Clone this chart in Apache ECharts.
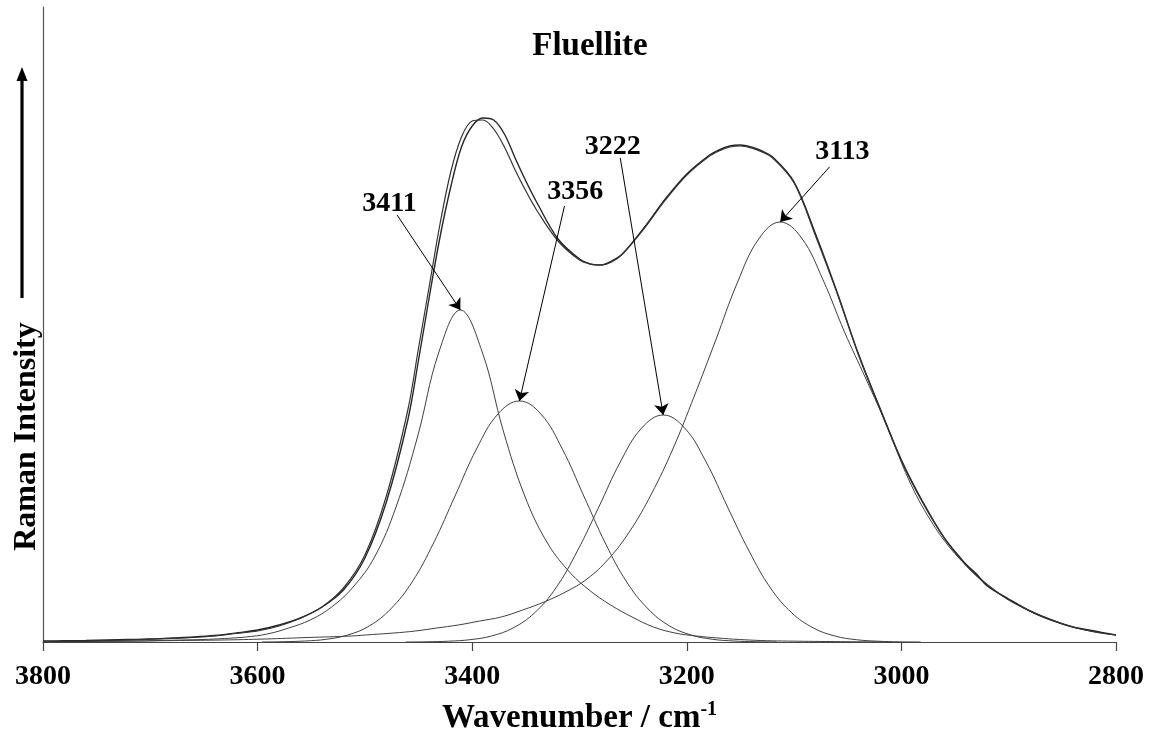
<!DOCTYPE html>
<html>
<head>
<meta charset="utf-8">
<title>Fluellite – Raman OH stretching region</title>
<script src="https://cdn.jsdelivr.net/npm/echarts@6/dist/echarts.min.js"></script>
<style>
  html, body { margin: 0; padding: 0; background: #fff; }
  #chart { width: 1152px; height: 740px; }
</style>
</head>
<body>
<div id="chart"></div>
<script>
// Measured Raman spectrum (wavenumber / cm-1, intensity a.u.)
const observed = [[3800,1],[3780,1.2],[3760,1.5],[3740,2],[3720,2.5],[3700,3],[3680,4],[3660,5],[3640,6.5],[3620,9],[3600,12],[3580,17],[3560,24],[3540,35],[3520,52],[3500,84],[3480,140],[3460,222],[3450,282],[3440,345],[3430,405],[3420,455],[3410,495],[3400,516],[3390,524],[3380,522],[3370,508],[3360,484],[3350,461],[3340,440],[3320,403],[3300,383],[3290,378],[3280,377],[3270,381],[3260,388],[3240,414],[3220,443],[3200,468],[3180,486],[3170,492],[3160,496],[3150,497],[3140,495],[3130,491],[3120,485],[3100,460],[3080,408],[3060,350],[3040,288],[3020,234],[3000,182],[2980,140],[2960,104],[2940,78],[2930,68],[2920,56],[2900,43],[2880,31],[2860,22],[2840,15],[2820,11],[2800,7]];

// Sum of the fitted bands
const fitted = [[3800,0.5],[3780,0.8],[3760,1],[3740,1.5],[3720,2],[3700,2.8],[3680,3.5],[3660,4.5],[3640,6],[3620,8.5],[3600,11],[3580,16],[3560,24],[3540,35],[3520,54],[3500,87],[3480,146],[3460,232],[3450,294],[3440,356],[3430,418],[3420,470],[3410,505],[3400,521],[3390,522],[3380,513],[3370,495],[3360,472],[3350,451],[3340,432],[3320,401],[3300,382],[3290,378],[3280,377],[3270,380],[3260,388],[3240,413],[3220,442],[3200,467],[3180,485],[3170,491],[3160,495],[3150,496],[3140,494],[3130,490],[3120,484],[3100,459],[3080,406],[3060,349],[3040,287],[3020,233],[3000,181],[2980,139],[2960,104],[2940,77],[2920,57],[2900,42],[2880,31],[2860,22],[2840,15],[2820,10],[2800,7]];

// Component bands from the curve fit
const band3411 = [[3791,0.3],[3751,0.6],[3711,1],[3691,1.5],[3671,2],[3651,2.5],[3631,3.5],[3611,5],[3591,8],[3571,14],[3551,22],[3531,35],[3511,55],[3491,85],[3471,135],[3451,205],[3431,290],[3411,332],[3391,291],[3371,211],[3351,146],[3331,101],[3311,72],[3291,52],[3271,37],[3251,25],[3231,15],[3211,9],[3191,6],[3171,4],[3151,2.5],[3131,1.5],[3111,1],[3071,0.5],[3011,0]];
const band3356 = [[3596,0],[3576,0.3],[3556,1],[3536,2.7],[3516,7],[3496,16],[3476,33],[3456,60],[3436,99],[3416,146],[3396,193],[3376,228],[3356,241],[3336,228],[3316,193],[3296,146],[3276,99],[3256,60],[3236,33],[3216,16],[3196,7],[3176,2.7],[3156,1],[3136,0.3],[3116,0]];
const band3222 = [[3462,0],[3442,0.2],[3422,0.8],[3402,2.3],[3382,6],[3362,14],[3342,29],[3322,54],[3302,91],[3282,135],[3262,180],[3242,214],[3222,227],[3202,214],[3182,180],[3162,135],[3142,91],[3122,54],[3102,29],[3082,14],[3062,6],[3042,2.3],[3022,0.8],[3002,0.2],[2982,0]];
const band3113 = [[3793,0.5],[3713,1],[3673,1.5],[3633,2],[3593,3],[3553,4.5],[3513,6],[3493,7.5],[3473,9],[3453,11],[3433,14],[3413,17],[3393,21],[3373,25],[3353,32],[3333,40],[3313,50],[3293,63],[3273,83],[3253,111],[3233,148],[3213,193],[3193,246],[3173,302],[3153,359],[3133,403],[3113,420],[3093,404],[3073,362],[3053,310],[3033,263],[3013,215],[2993,162],[2973,122],[2953,92],[2933,70],[2913,52],[2893,38],[2873,27],[2853,19],[2833,13],[2813,9],[2800,7]];

const bandLabels = ['3411', '3356', '3222', '3113'];
const bands = [band3411, band3356, band3222, band3113];
// annotation text centres and arrow start points (data coordinates)
const labelAt = [[3477,438],[3304,450],[3269,495],[3055,490]];
const arrowFrom = [[3470,427],[3314,436],[3262,484],[3067,475]];

const serif = '"Liberation Serif", "Times New Roman", serif';

function peakOf(band) {
  return band.reduce((best, p) => (p[1] > best[1] ? p : best), band[0]);
}

const componentSeries = bands.map((band, i) => ({
  name: bandLabels[i],
  type: 'line',
  data: band,
  smooth: 0.4,
  showSymbol: false,
  lineStyle: { color: '#404040', width: 1 },
  itemStyle: { color: '#000' },
  z: 2,
  markLine: {
    silent: true,
    symbol: ['none', 'arrow'],
    symbolSize: 11,
    label: { show: false },
    emphasis: { disabled: true },
    lineStyle: { color: '#000', width: 1, type: 'solid' },
    itemStyle: { color: '#000' },
    data: [[{ coord: arrowFrom[i] }, { coord: peakOf(band) }]]
  }
}));

const chart = echarts.init(document.getElementById('chart'), null, { renderer: 'canvas' });

chart.setOption({
  animation: false,
  backgroundColor: '#fff',
  title: {
    text: 'Fluellite',
    left: 585,
    top: 25,
    textAlign: 'center',
    textStyle: { fontFamily: serif, fontWeight: 'bold', fontSize: 33, color: '#000' }
  },
  grid: { left: 43, right: 36, top: 7, bottom: 98, containLabel: false, outerBoundsMode: 'none' },
  xAxis: {
    type: 'value',
    min: 2800,
    max: 3800,
    interval: 200,
    inverse: true,
    axisLine: { lineStyle: { color: '#444', width: 1.2 } },
    axisTick: { show: true, length: 9, lineStyle: { color: '#444', width: 1.2 } },
    axisLabel: {
      margin: 21, fontFamily: serif, fontWeight: 'bold', fontSize: 28, color: '#000',
      formatter: (v) => String(v)
    },
    splitLine: { show: false },
    name: 'Wavenumber / cm{sup|-1}',
    nameLocation: 'middle',
    nameGap: 58,
    nameTextStyle: {
      fontFamily: serif, fontWeight: 'bold', fontSize: 33, color: '#000',
      rich: { sup: { fontFamily: serif, fontWeight: 'bold', fontSize: 20, color: '#000', padding: [0, 0, 16, 0] } }
    }
  },
  yAxis: {
    type: 'value',
    min: 0,
    max: 635,
    axisLine: { show: true, lineStyle: { color: '#555', width: 1.2 } },
    axisTick: { show: false },
    axisLabel: { show: false },
    splitLine: { show: false },
    name: 'Raman Intensity',
    nameLocation: 'middle',
    nameGap: 0,
    nameRotate: 90,
    nameTextStyle: {
      fontFamily: serif, fontWeight: 'bold', fontSize: 32, color: '#000',
      padding: [0, 224, 0, 0]
    }
  },
  graphic: [{
    type: 'group',
    silent: true,
    children: [
      { type: 'line', shape: { x1: 22, y1: 298, x2: 22, y2: 78 }, style: { stroke: '#000', lineWidth: 3.2 } },
      { type: 'polygon', shape: { points: [[22, 67], [16.5, 81], [27.5, 81]] }, style: { fill: '#000' } }
    ]
  }],
  series: [
    {
      name: 'observed',
      type: 'line',
      data: observed,
      smooth: 0.35,
      showSymbol: false,
      lineStyle: { color: '#262626', width: 1.4 },
      z: 3
    },
    {
      name: 'fit',
      type: 'line',
      data: fitted,
      smooth: 0.35,
      showSymbol: false,
      lineStyle: { color: '#333', width: 1.2 },
      z: 3
    },
    ...componentSeries,
    {
      name: 'band labels',
      type: 'scatter',
      data: labelAt.map((p, i) => ({ value: p, name: bandLabels[i] })),
      symbolSize: 1,
      itemStyle: { color: 'rgba(0,0,0,0)', opacity: 1 },
      label: {
        show: true,
        position: 'inside',
        formatter: (p) => p.name,
        fontFamily: serif,
        fontWeight: 'bold',
        fontSize: 28,
        color: '#000',
        opacity: 1,
        textBorderWidth: 0
      },
      z: 5
    }
  ]
});
</script>
</body>
</html>
